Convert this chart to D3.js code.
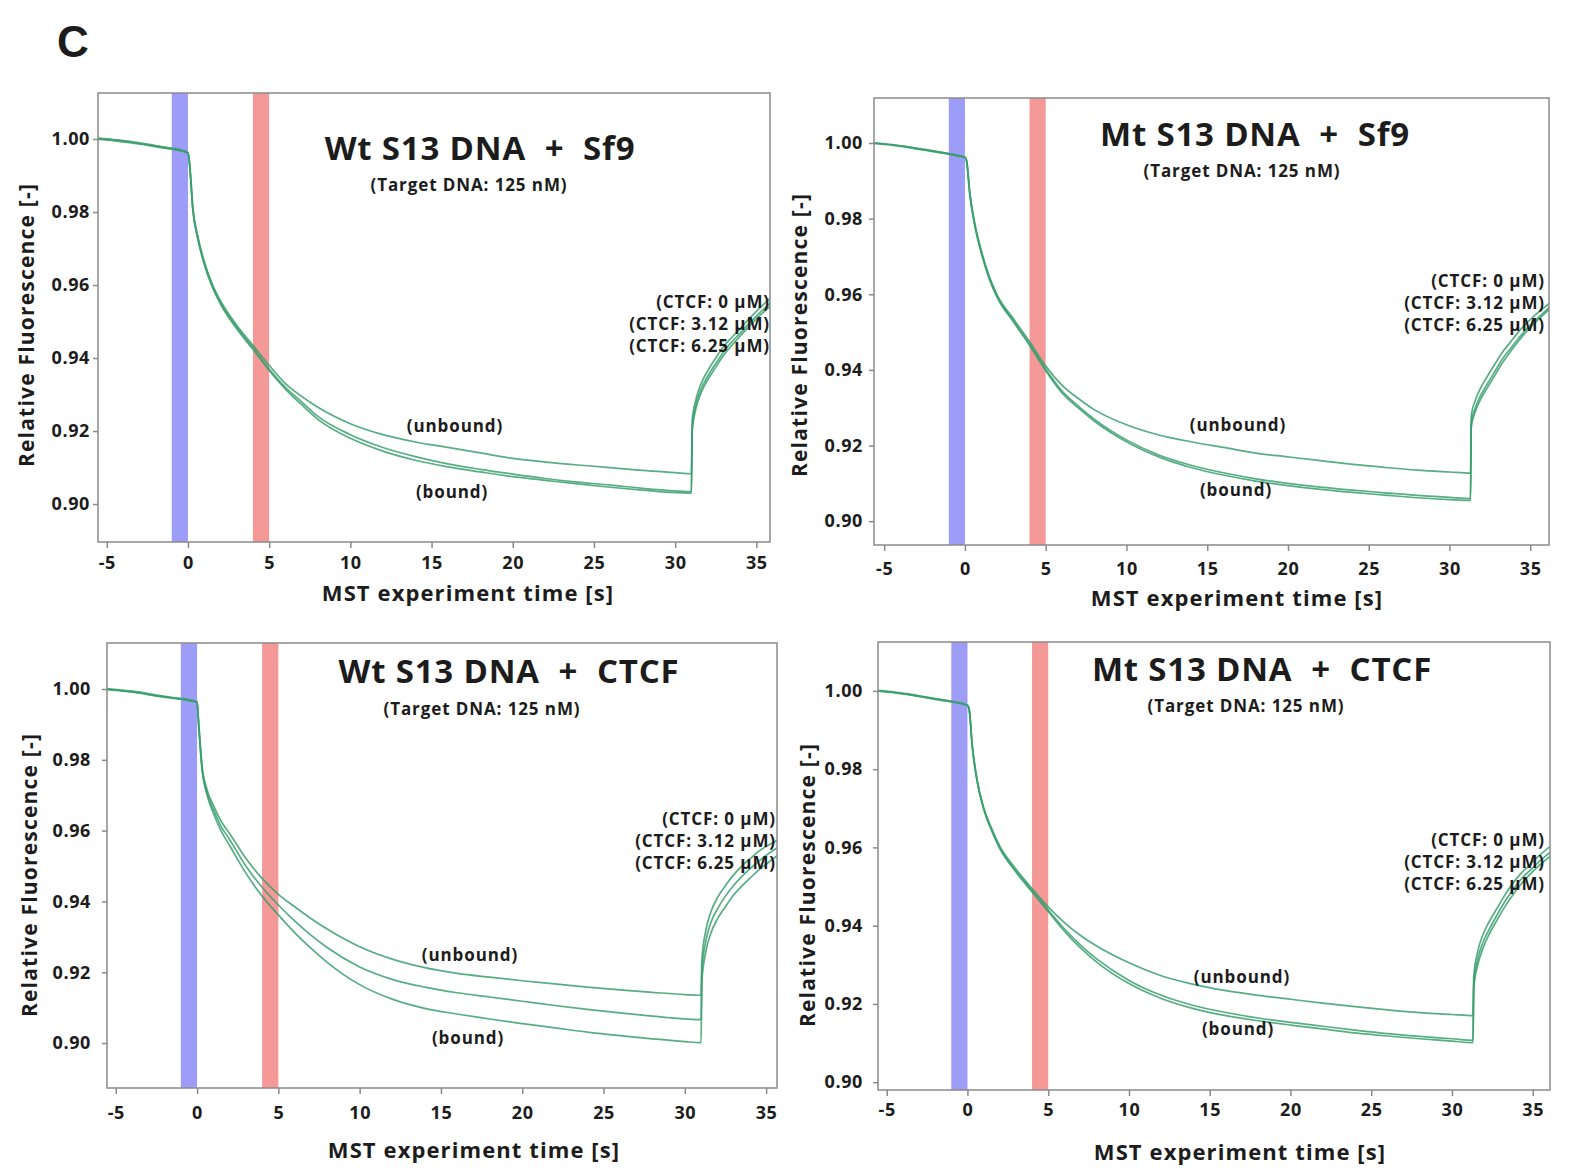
<!DOCTYPE html>
<html>
<head>
<meta charset="utf-8">
<script src="https://cdn.jsdelivr.net/npm/d3@7"></script>
<style>
  body { margin: 0; background: #fff; }
  svg text { font-family: "Open Sans", "Noto Sans", sans-serif; font-weight: 700; fill: #1c1c1c; }
</style>
</head>
<body>
<div id="chart"></div>
<script>
const timesWt = [-6, -4.5, -3.5, -2.5, -1.5, -0.5, 0, 0.1, 0.3, 0.6, 1, 1.5, 2, 3, 4, 5,
  6, 7, 8, 10, 12, 14, 16, 18, 20, 22, 24, 26, 28, 30,
  31, 31.05, 31.3, 31.6, 32, 32.5, 33, 33.5, 34, 34.5, 35, 36];
const timesMt = [-6, -4.5, -3.5, -2.5, -1.5, -0.5, 0, 0.1, 0.3, 0.6, 1, 1.5, 2, 3, 4, 5,
  6, 7, 8, 10, 12, 14, 16, 18, 20, 22, 24, 26, 28, 30,
  31.3, 31.35, 31.6, 31.9, 32.3, 32.8, 33.3, 33.8, 34.3, 34.8, 35.3, 36.3];

// Wt S13 DNA + Sf9
const wtSf9_0 = [1.0004, 0.9998, 0.9993, 0.9986, 0.9978, 0.9971,
  0.9962, 0.9935, 0.9812, 0.9735, 0.9665, 0.9602, 0.9557, 0.9490, 0.9435, 0.9380,
  0.9330, 0.9295, 0.9265, 0.9220, 0.9190, 0.9170, 0.9155, 0.9140, 0.9125, 0.9115, 0.9107, 0.9100, 0.9092, 0.9086,
  0.9083, 0.9230, 0.9290, 0.9330, 0.9365, 0.9400, 0.9432, 0.9457, 0.9480, 0.9505, 0.9528, 0.9570];
const wtSf9_312 = [1.0002, 0.9997, 0.9991, 0.9984, 0.9977, 0.9969,
  0.9963, 0.9930, 0.9808, 0.9730, 0.9660, 0.9598, 0.9552, 0.9485, 0.9428, 0.9370,
  0.9320, 0.9280, 0.9240, 0.9190, 0.9155, 0.9130, 0.9110, 0.9095, 0.9082, 0.9070, 0.9060, 0.9052, 0.9043, 0.9036,
  0.9034, 0.9210, 0.9275, 0.9315, 0.9350, 0.9385, 0.9418, 0.9445, 0.9468, 0.9492, 0.9515, 0.9555];
const wtSf9_625 = [1.0000, 0.9995, 0.9989, 0.9983, 0.9975, 0.9968,
  0.9961, 0.9928, 0.9805, 0.9727, 0.9657, 0.9594, 0.9548, 0.9480, 0.9424, 0.9366,
  0.9315, 0.9272, 0.9232, 0.9180, 0.9145, 0.9120, 0.9102, 0.9088, 0.9075, 0.9065, 0.9055, 0.9046, 0.9038, 0.9031,
  0.9030, 0.9200, 0.9265, 0.9305, 0.9340, 0.9375, 0.9408, 0.9435, 0.9460, 0.9484, 0.9507, 0.9548];

// Mt S13 DNA + Sf9
const mtSf9_0 = [1.0002, 0.9996, 0.9990, 0.9983, 0.9976, 0.9968,
  0.9962, 0.9955, 0.9870, 0.9790, 0.9718, 0.9648, 0.9598, 0.9535, 0.9475, 0.9410,
  0.9360, 0.9325, 0.9295, 0.9255, 0.9228, 0.9210, 0.9195, 0.9180, 0.9170, 0.9160, 0.9150, 0.9142, 0.9135, 0.9130,
  0.9127, 0.9280, 0.9320, 0.9350, 0.9380, 0.9415, 0.9448, 0.9475, 0.9502, 0.9525, 0.9545, 0.9580];
const mtSf9_312 = [1.0001, 0.9995, 0.9989, 0.9982, 0.9975, 0.9967,
  0.9963, 0.9953, 0.9866, 0.9786, 0.9714, 0.9644, 0.9594, 0.9530, 0.9468, 0.9402,
  0.9345, 0.9305, 0.9270, 0.9215, 0.9175, 0.9148, 0.9128, 0.9112, 0.9100, 0.9090, 0.9082, 0.9075, 0.9068, 0.9063,
  0.9060, 0.9260, 0.9300, 0.9330, 0.9360, 0.9395, 0.9430, 0.9458, 0.9485, 0.9510, 0.9530, 0.9570];
const mtSf9_625 = [1.0000, 0.9994, 0.9988, 0.9981, 0.9974, 0.9966,
  0.9961, 0.9951, 0.9864, 0.9783, 0.9711, 0.9641, 0.9591, 0.9527, 0.9465, 0.9398,
  0.9340, 0.9300, 0.9265, 0.9210, 0.9170, 0.9142, 0.9122, 0.9106, 0.9094, 0.9084, 0.9076, 0.9069, 0.9062, 0.9057,
  0.9055, 0.9250, 0.9290, 0.9320, 0.9350, 0.9385, 0.9420, 0.9450, 0.9478, 0.9503, 0.9525, 0.9565];

// Wt S13 DNA + CTCF
const wtCtcf_0 = [1.0003, 0.9996, 0.9991, 0.9983, 0.9976, 0.9970,
  0.9964, 0.9905, 0.9785, 0.9718, 0.9672, 0.9625, 0.9592, 0.9522, 0.9465, 0.9420,
  0.9385, 0.9352, 0.9322, 0.9272, 0.9237, 0.9213, 0.9197, 0.9186, 0.9176, 0.9167, 0.9158, 0.9150, 0.9143, 0.9137,
  0.9135, 0.9235, 0.9320, 0.9370, 0.9410, 0.9445, 0.9475, 0.9500, 0.9520, 0.9540, 0.9555, 0.9580];
const wtCtcf_312 = [1.0001, 0.9995, 0.9989, 0.9981, 0.9975, 0.9968,
  0.9963, 0.9900, 0.9780, 0.9710, 0.9660, 0.9610, 0.9575, 0.9500, 0.9440, 0.9390,
  0.9345, 0.9305, 0.9270, 0.9215, 0.9180, 0.9158, 0.9142, 0.9130, 0.9118, 0.9106, 0.9095, 0.9085, 0.9076, 0.9068,
  0.9066, 0.9205, 0.9290, 0.9340, 0.9378, 0.9415, 0.9445, 0.9470, 0.9492, 0.9512, 0.9530, 0.9560];
const wtCtcf_625 = [1.0000, 0.9994, 0.9988, 0.9980, 0.9974, 0.9967,
  0.9962, 0.9895, 0.9775, 0.9703, 0.9650, 0.9597, 0.9558, 0.9480, 0.9415, 0.9362,
  0.9312, 0.9268, 0.9228, 0.9165, 0.9124, 0.9098, 0.9082, 0.9068, 0.9055, 0.9043, 0.9031, 0.9021, 0.9012, 0.9004,
  0.9001, 0.9175, 0.9260, 0.9310, 0.9350, 0.9385, 0.9418, 0.9443, 0.9465, 0.9487, 0.9505, 0.9540];

// Mt S13 DNA + CTCF
const mtCtcf_0 = [1.0003, 0.9997, 0.9991, 0.9984, 0.9977, 0.9970,
  0.9964, 0.9955, 0.9860, 0.9772, 0.9702, 0.9648, 0.9603, 0.9545, 0.9495, 0.9448,
  0.9408, 0.9375, 0.9348, 0.9305, 0.9272, 0.9250, 0.9234, 0.9222, 0.9212, 0.9202, 0.9193, 0.9185, 0.9178, 0.9173,
  0.9170, 0.9270, 0.9335, 0.9375, 0.9410, 0.9445, 0.9480, 0.9510, 0.9535, 0.9555, 0.9575, 0.9610];
const mtCtcf_312 = [1.0002, 0.9996, 0.9990, 0.9983, 0.9976, 0.9969,
  0.9963, 0.9954, 0.9858, 0.9770, 0.9700, 0.9645, 0.9600, 0.9540, 0.9490, 0.9440,
  0.9392, 0.9350, 0.9315, 0.9260, 0.9222, 0.9196, 0.9178, 0.9164, 0.9153, 0.9143, 0.9133, 0.9124, 0.9117, 0.9111,
  0.9107, 0.9250, 0.9315, 0.9355, 0.9390, 0.9428, 0.9463, 0.9493, 0.9520, 0.9540, 0.9560, 0.9595];
const mtCtcf_625 = [1.0001, 0.9995, 0.9989, 0.9982, 0.9975, 0.9968,
  0.9962, 0.9953, 0.9856, 0.9768, 0.9698, 0.9642, 0.9597, 0.9537, 0.9486, 0.9436,
  0.9386, 0.9343, 0.9307, 0.9252, 0.9214, 0.9188, 0.9170, 0.9157, 0.9146, 0.9136, 0.9126, 0.9118, 0.9111, 0.9105,
  0.9101, 0.9240, 0.9300, 0.9340, 0.9378, 0.9415, 0.9450, 0.9480, 0.9507, 0.9530, 0.9550, 0.9585];

const xTicks = [-5, 0, 5, 10, 15, 20, 25, 30, 35];
const yTicks = [0.90, 0.92, 0.94, 0.96, 0.98, 1.00];
const concLabels = ["(CTCF: 0 \u00b5M)", "(CTCF: 3.12 \u00b5M)", "(CTCF: 6.25 \u00b5M)"];
const coldBand = [-1, 0];   // IR laser on (blue)
const hotBand = [4, 5];     // thermophoresis window (red)

// layout; each panel has its own frame and scales
const panels = [
  { title: "Wt S13 DNA  +  Sf9", times: timesWt, series: [wtSf9_0, wtSf9_312, wtSf9_625],
    box: [98, 93, 770, 542], xd: [-5.54, 35.84], yd: [0.8896, 1.0126], yPad: 3, xPad: 8,
    titleAt: [480, 160], subAt: [469, 191], concAt: [770, 308], unbAt: [455, 432], bndAt: [452, 498],
    xlabAt: [468, 601], ylabAt: [27, 325] },
  { title: "Mt S13 DNA  +  Sf9", times: timesMt, series: [mtSf9_0, mtSf9_312, mtSf9_625],
    box: [874, 98, 1549, 545], xd: [-5.63, 36.16], yd: [0.8937, 1.0119], yPad: 6, xPad: 11,
    titleAt: [1255, 146], subAt: [1242, 177], concAt: [1545, 287], unbAt: [1238, 431], bndAt: [1236, 496],
    xlabAt: [1237, 606], ylabAt: [800, 335] },
  { title: "Wt S13 DNA  +  CTCF", times: timesWt, series: [wtCtcf_0, wtCtcf_312, wtCtcf_625],
    box: [107, 643, 777, 1088], xd: [-5.54, 35.67], yd: [0.8873, 1.013], yPad: 11, xPad: 12,
    titleAt: [509, 683], subAt: [482, 715], concAt: [776, 825], unbAt: [470, 961], bndAt: [468, 1044],
    xlabAt: [474, 1158], ylabAt: [30, 875] },
  { title: "Mt S13 DNA  +  CTCF", times: timesMt, series: [mtCtcf_0, mtCtcf_312, mtCtcf_625],
    box: [878, 642, 1550, 1090], xd: [-5.54, 36.07], yd: [0.898, 1.0125], yPad: 10, xPad: 7,
    titleAt: [1262, 681], subAt: [1246, 712], concAt: [1545, 846], unbAt: [1242, 983], bndAt: [1238, 1035],
    xlabAt: [1240, 1160], ylabAt: [808, 885] }
];

const W = 1572, H = 1170;
const svg = d3.select("#chart").append("svg").attr("width", W).attr("height", H);

svg.append("text").attr("x", 57).attr("y", 57)
  .style("font-family", "'Liberation Sans', Arial, sans-serif").style("font-size", "44px")
  .text("C");

panels.forEach((p, i) => {
  const [l, t, r, b] = p.box;
  const x = d3.scaleLinear().domain(p.xd).range([l, r]);
  const y = d3.scaleLinear().domain(p.yd).range([b, t]);
  const g = svg.append("g");

  const clipId = "clip" + i;
  svg.append("clipPath").attr("id", clipId)
    .append("rect").attr("x", l).attr("y", t).attr("width", r - l).attr("height", b - t);

  g.append("rect").attr("x", x(coldBand[0])).attr("y", t)
    .attr("width", x(coldBand[1]) - x(coldBand[0])).attr("height", b - t).attr("fill", "#9d9cf7");
  g.append("rect").attr("x", x(hotBand[0])).attr("y", t)
    .attr("width", x(hotBand[1]) - x(hotBand[0])).attr("height", b - t).attr("fill", "#f59898");

  const line = d3.line().x((d, k) => x(p.times[k])).y(d => y(d)).curve(d3.curveMonotoneX);
  g.append("g").attr("clip-path", `url(#${clipId})`)
    .selectAll("path").data(p.series).enter().append("path")
    .attr("d", line).attr("fill", "none")
    .attr("stroke", "#3a9f6e").attr("stroke-width", 1.7).attr("stroke-opacity", 0.85);

  g.append("rect").attr("x", l).attr("y", t).attr("width", r - l).attr("height", b - t)
    .attr("fill", "none").attr("stroke", "#8a8a8a").attr("stroke-width", 1.5);

  const ya = g.append("g").attr("transform", `translate(${l},0)`)
    .call(d3.axisLeft(y).tickValues(yTicks).tickFormat(d3.format(".2f")).tickSize(5).tickPadding(p.yPad));
  const xa = g.append("g").attr("transform", `translate(0,${b})`)
    .call(d3.axisBottom(x).tickValues(xTicks).tickFormat(d => String(d)).tickSize(6).tickPadding(p.xPad));
  [ya, xa].forEach(a => {
    a.select(".domain").remove();
    a.selectAll(".tick line").attr("stroke", "#8a8a8a").attr("stroke-width", 1.5);
    a.selectAll(".tick text").style("font-size", "18px").style("letter-spacing", "0.6px").attr("fill", "#1c1c1c");
  });

  g.append("text").attr("x", p.titleAt[0]).attr("y", p.titleAt[1]).attr("text-anchor", "middle")
    .attr("xml:space", "preserve").style("font-size", "33px").style("letter-spacing", "0.8px").text(p.title);
  g.append("text").attr("x", p.subAt[0]).attr("y", p.subAt[1]).attr("text-anchor", "middle")
    .style("font-size", "17px").style("letter-spacing", "0.9px").text("(Target DNA: 125 nM)");
  concLabels.forEach((c, k) => {
    g.append("text").attr("x", p.concAt[0]).attr("y", p.concAt[1] + k * 22).attr("text-anchor", "end")
      .style("font-size", "17px").style("letter-spacing", "0.9px").text(c);
  });
  g.append("text").attr("x", p.unbAt[0]).attr("y", p.unbAt[1]).attr("text-anchor", "middle")
    .style("font-size", "17px").style("letter-spacing", "0.9px").text("(unbound)");
  g.append("text").attr("x", p.bndAt[0]).attr("y", p.bndAt[1]).attr("text-anchor", "middle")
    .style("font-size", "17px").style("letter-spacing", "0.9px").text("(bound)");
  g.append("text").attr("x", p.xlabAt[0]).attr("y", p.xlabAt[1]).attr("text-anchor", "middle")
    .style("font-size", "22px").style("letter-spacing", "1.1px").text("MST experiment time [s]");
  g.append("text").attr("transform", `translate(${p.ylabAt[0]},${p.ylabAt[1]}) rotate(-90)`)
    .attr("text-anchor", "middle").attr("dy", "0.35em")
    .style("font-size", "21px").style("letter-spacing", "1.2px").text("Relative Fluorescence [-]");
});
</script>
</body>
</html>
